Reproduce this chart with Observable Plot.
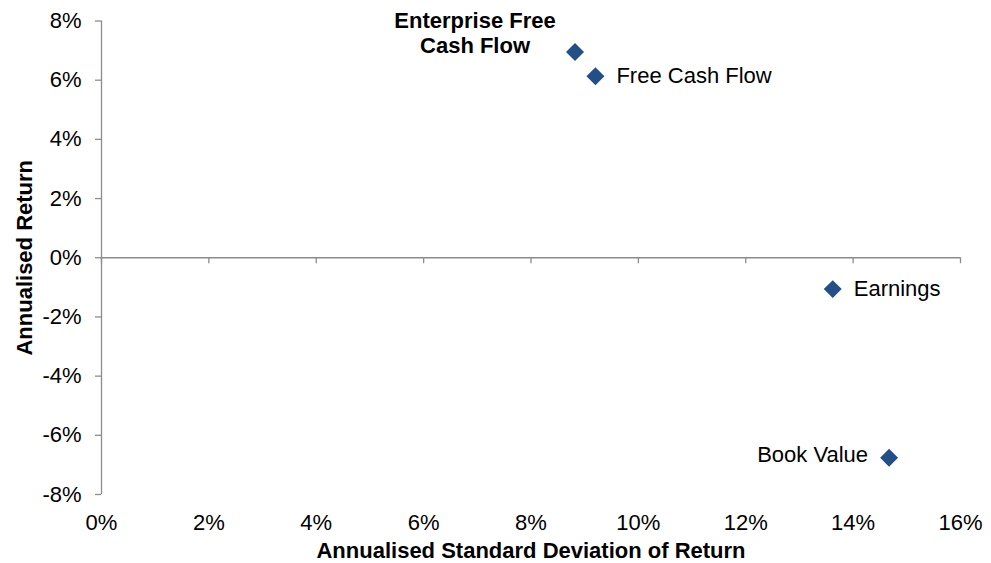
<!DOCTYPE html>
<html>
<head>
<meta charset="utf-8">
<script src="https://cdn.jsdelivr.net/npm/d3@7"></script>
<script src="https://cdn.jsdelivr.net/npm/@observablehq/plot@0.6"></script>
<style>
  html, body { margin: 0; padding: 0; background: #fff; }
</style>
</head>
<body>
<div id="chart"></div>
<script>
// Data (values in percent)
const names = ["Enterprise Free\nCash Flow", "Free Cash Flow", "Earnings", "Book Value"];
const stdev = [8.82, 9.20, 13.62, 14.67];
const annReturn = [6.95, 6.13, -1.06, -6.76];
const xTicks = [0, 2, 4, 6, 8, 10, 12, 14, 16];
const yTicks = [-8, -6, -4, -2, 0, 2, 4, 6, 8];
const xTitle = "Annualised Standard Deviation of Return";
const yTitle = "Annualised Return";

const data = names.map((n, i) => ({name: n, x: stdev[i], y: annReturn[i]}));

const axisColor = "#8c8c8c";
const markColor = "#234e86";
const pct = d => `${d}%`;

const chart = Plot.plot({
  width: 991,
  height: 563,
  marginLeft: 101,
  marginRight: 31,
  marginTop: 20.5,
  marginBottom: 69,
  style: {fontFamily: "'Liberation Sans', Arial, sans-serif", fontSize: "22px", background: "#fff", color: "#000"},
  x: {domain: [0, 16]},
  y: {domain: [-8, 8]},
  marks: [
    // horizontal axis line at y = 0
    Plot.ruleY([0], {stroke: axisColor, strokeWidth: 1.3}),
    // x tick marks hanging below the zero line
    Plot.ruleX(xTicks, {x: d => d, y1: 0, y2: 0, insetBottom: -6, stroke: axisColor, strokeWidth: 1.3}),
    // vertical axis line
    Plot.ruleX([0], {stroke: axisColor, strokeWidth: 1.3}),
    Plot.axisY({ticks: yTicks, tickFormat: pct, tickSize: 6, tickPadding: 14, stroke: axisColor, fill: "#000", strokeWidth: 1.3, label: null}),
    Plot.axisX({ticks: xTicks, tickFormat: pct, tickSize: 0, tickPadding: 20, fill: "#000", label: null}),
    // axis titles
    Plot.text([xTitle], {frameAnchor: "bottom", lineAnchor: "middle", dy: 56, fontWeight: "bold", fontSize: 22, textAnchor: "middle", fill: "#000"}),
    Plot.text([yTitle], {frameAnchor: "left", lineAnchor: "middle", dx: -77, rotate: -90, fontWeight: "bold", fontSize: 22, textAnchor: "middle", fill: "#000"}),
    // points
    Plot.dot(data, {x: "x", y: "y", symbol: "diamond2", r: 8.1, fill: markColor, stroke: "none"}),
    // labels
    Plot.text(data.filter((d, i) => i === 0), {x: "x", y: "y", text: "name", fontWeight: "bold", textAnchor: "middle", dx: -100, dy: -20, lineHeight: 1.14, fill: "#000"}),
    Plot.text(data.filter((d, i) => i === 1 || i === 2), {x: "x", y: "y", text: "name", textAnchor: "start", dx: 21, fill: "#000"}),
    Plot.text(data.filter((d, i) => i === 3), {x: "x", y: "y", text: "name", textAnchor: "end", dx: -21, dy: -3, fill: "#000"})
  ]
});

document.getElementById("chart").appendChild(chart);
</script>
</body>
</html>
